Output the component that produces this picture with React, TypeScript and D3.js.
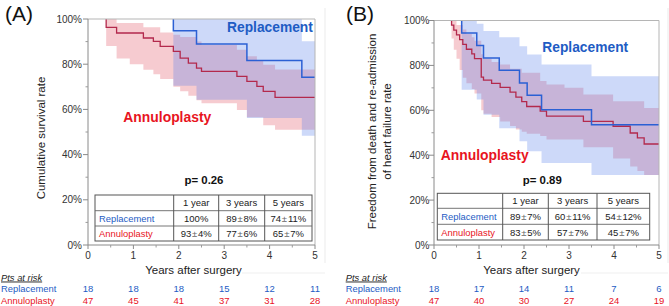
import React from 'react';
import * as d3 from 'd3';

type Pt = [number, number];

// ---------- shared ----------
const years = [0, 1, 2, 3, 4, 5];
const halfYears = [0.5, 1.5, 2.5, 3.5, 4.5];
const yTicks = [0, 20, 40, 60, 80, 100];
const yMinorTicks = [10, 30, 50, 70, 90];
const tableHeaders = ['1 year', '3 years', '5 years'];
const seriesNames = ['Replacement', 'Annuloplasty'];

// ---------- Panel A : survival ----------
const repSurvA: Pt[] = [[0, 100], [1.88, 94.8], [2.39, 88.9], [3.5, 81.6], [4.71, 74.2]];
const repUpperA: Pt[] = [[0, 100], [4.71, 90.1]];
const repLowerA: Pt[] = [[0, 100], [1.88, 70.5], [2.39, 64.3], [3.5, 56.2], [4.71, 48.3]];
const annSurvA: Pt[] = [[0, 100], [0.4, 96.3], [0.63, 93.8], [1.22, 91.6], [1.44, 90.1], [1.59, 87.9], [1.88, 85.7], [2.03, 82.7], [2.21, 80.5], [2.39, 78.3], [2.5, 76.8], [3.28, 74.6], [3.5, 72.4], [3.72, 70.2], [3.86, 68], [4.12, 65.3]];
const annUpperA: Pt[] = [[0, 100], [0.63, 98.2], [1.22, 96.3], [1.59, 94], [1.88, 93], [2.03, 92], [2.39, 90], [2.5, 88.5], [3.28, 86.4], [3.5, 83.5], [3.72, 81.5], [3.86, 79.8], [4.12, 77.6]];
const annLowerA: Pt[] = [[0, 100], [0.4, 88], [0.63, 82.5], [0.92, 80], [1.22, 77.5], [1.44, 75.5], [1.59, 73.5], [1.88, 70], [2.03, 68], [2.21, 66], [2.39, 64], [2.5, 62.7], [3.28, 59.7], [3.5, 56.5], [3.86, 53], [4.12, 51]];
const tableRepA = ['100%', '89±8%', '74±11%'];
const tableAnnA = ['93±4%', '77±6%', '65±7%'];
const riskRepA = [18, 18, 18, 15, 12, 11];
const riskAnnA = [47, 45, 41, 37, 31, 28];
const pValueA = 'p= 0.26';

// ---------- Panel B : freedom from death / HF readmission ----------
const repSurvB: Pt[] = [[0, 100], [0.615, 94.4], [0.95, 88.9], [1.1, 83.3], [1.45, 77.8], [1.9, 72.2], [2.07, 66.7], [2.39, 60.3], [3.5, 53.6]];
const repUpperB: Pt[] = [[0, 100], [0.95, 98.5], [1.1, 95.3], [1.45, 92.5], [1.9, 88.5], [2.07, 84.8], [2.39, 80.4], [3.5, 75.2]];
const repLowerB: Pt[] = [[0, 100], [0.615, 69.2], [0.95, 64.8], [1.1, 58], [1.45, 52], [1.9, 46.2], [2.07, 41.8], [2.39, 36.5], [3.5, 31.2]];
const annSurvB: Pt[] = [[0, 100], [0.39, 97.9], [0.44, 95.7], [0.5, 93.6], [0.57, 91.5], [0.64, 89.4], [0.72, 87.2], [0.84, 85.1], [0.9, 83.0], [1.05, 74.8], [1.1, 73.4], [1.28, 72], [1.47, 70.2], [1.69, 68.1], [1.82, 65.9], [1.95, 63.9], [2.06, 61.7], [2.36, 59.6], [2.5, 57.4], [3.32, 55.1], [3.98, 52.9], [4.36, 49.9], [4.52, 47.7], [4.67, 45]];
const annUpperB: Pt[] = [[0, 100], [0.5, 98], [0.64, 96], [0.72, 94], [0.84, 92.5], [0.9, 91], [1.05, 85], [1.1, 83], [1.28, 81.5], [1.47, 80.4], [1.69, 78.5], [1.95, 76.7], [2.36, 73], [2.5, 71.5], [2.9, 70], [3.32, 67], [3.98, 64], [4.67, 61]];
const annLowerB: Pt[] = [[0, 100], [0.39, 92], [0.44, 87], [0.5, 83], [0.57, 78], [0.64, 74.5], [0.72, 72], [0.84, 69.5], [0.9, 67.5], [1.05, 60], [1.1, 58.5], [1.28, 57], [1.47, 55], [1.69, 53], [1.82, 51.5], [1.95, 50.5], [2.06, 49.5], [2.36, 48.5], [2.5, 47], [3.32, 43.5], [3.98, 38.5], [4.36, 35], [4.52, 33], [4.67, 31.2]];
const tableRepB = ['89±7%', '60±11%', '54±12%'];
const tableAnnB = ['83±5%', '57±7%', '45±7%'];
const riskRepB = [18, 17, 14, 11, 7, 6];
const riskAnnB = [47, 40, 30, 27, 24, 19];
const pValueB = 'p= 0.89';

// ---------- styling ----------
const FONT = '"Liberation Sans", Arial, Helvetica, sans-serif';
const BLUE_TXT = '#1e5cc4';
const RED_TXT = '#e8141e';
const BLUE_LINE = '#2b60d4';
const RED_LINE = '#b3294c';
const BLUE_FILL = 'rgba(90,130,235,0.30)';
const RED_FILL = 'rgba(230,110,125,0.36)';

const stepVal = (arr: Pt[], t: number) => {
  let v = arr[0][1];
  for (const [tt, vv] of arr) if (tt <= t + 1e-9) v = vv;
  return v;
};

function bandPts(upper: Pt[], lower: Pt[]) {
  const times = Array.from(new Set([...upper.map(d => d[0]), ...lower.map(d => d[0]), 5])).sort((a, b) => a - b);
  return times.map(t => ({ t, hi: stepVal(upper, t), lo: stepVal(lower, t) }));
}

// line starts at the first event (the 100% plateau is hidden by the top frame in the original)
function linePts(s: Pt[]): Pt[] {
  const first = s.findIndex(d => d[1] < 100);
  const start: Pt = [s[first][0], 100];
  return [start, ...s.slice(first), [5, s[s.length - 1][1]]];
}

function ValText({ s, x, y }: { s: string; x: number; y: number }) {
  const parts = s.split('±');
  return (
    <text x={x} y={y} textAnchor="middle" fontSize={9.5} fill="#222">
      {parts[0]}
      {parts.length > 1 && <tspan dx={0.8} fill="#666">±</tspan>}
      {parts.length > 1 && <tspan dx={0.8}>{parts[1]}</tspan>}
    </text>
  );
}

interface PanelProps {
  x0: number; x5: number; yTop: number; yBot: number; tickOff: number;
  letter: string; letterX: number;
  yTitle: string[]; yTitleX: number[]; yTitleY: number;
  repLabel: [number, number]; annLabel: [number, number];
  p: string; pPos: [number, number];
  cols: number[]; rows: number[]; labelX: number;
  xTitleX: number; riskX: number;
  repSurv: Pt[]; repUp: Pt[]; repLo: Pt[];
  annSurv: Pt[]; annUp: Pt[]; annLo: Pt[];
  tRep: string[]; tAnn: string[]; rRep: number[]; rAnn: number[];
  edgeX: number; edgeLineX0: number;
}

function Panel(P: PanelProps) {
  const x = d3.scaleLinear().domain([0, 5]).range([P.x0, P.x5]);
  const y = d3.scaleLinear().domain([0, 100]).range([P.yBot, P.yTop]);
  const area = d3.area<{ t: number; hi: number; lo: number }>()
    .x(d => x(d.t)).y0(d => y(d.lo)).y1(d => y(d.hi)).curve(d3.curveStepAfter);
  const line = d3.line<Pt>().x(d => x(d[0])).y(d => y(d[1])).curve(d3.curveStepAfter);
  const { cols, rows } = P;
  const rowMid = (i: number) => (rows[i] + rows[i + 1]) / 2 + 3.4;
  const colMid = (i: number) => (cols[i] + cols[i + 1]) / 2;
  return (
    <g fontFamily={FONT}>
      {/* faint image edges */}
      <line x1={P.edgeX} x2={P.edgeX} y1={8} y2={263} stroke="#ebebeb" />
      <line x1={P.edgeLineX0} x2={P.edgeX} y1={273} y2={273} stroke="#efefef" />
      <text x={P.letterX} y={21} fontSize={21} fill="#111">{P.letter}</text>

      {/* bands */}
      <path d={area(bandPts(P.annUp, P.annLo)) || ''} fill={RED_FILL} />
      <path d={area(bandPts(P.repUp, P.repLo)) || ''} fill={BLUE_FILL} />

      {/* lines */}
      <path d={line(linePts(P.annSurv)) || ''} fill="none" stroke={RED_LINE} strokeWidth={1.3} />
      <path d={line(linePts(P.repSurv)) || ''} fill="none" stroke={BLUE_LINE} strokeWidth={1.5} />

      {/* frame */}
      <line x1={P.x0} x2={P.x5} y1={P.yTop} y2={P.yTop} stroke="#b5b5b5" />
      <line x1={P.x5} x2={P.x5} y1={P.yTop} y2={P.yBot} stroke="#b5b5b5" />
      <line x1={P.x0} x2={P.x0} y1={P.yTop} y2={P.yBot} stroke="#8a8a8a" />
      <line x1={P.x0} x2={P.x5} y1={P.yBot} y2={P.yBot} stroke="#8a8a8a" />

      {/* y axis */}
      {yTicks.map(v => (
        <g key={'yt' + v}>
          <line x1={P.x0 - 5} x2={P.x0} y1={y(v)} y2={y(v)} stroke="#8a8a8a" />
          <text x={P.x0 - P.tickOff} y={y(v)} dy="0.35em" textAnchor="end" fontSize={10} fill="#333">{v + '%'}</text>
        </g>
      ))}
      {yMinorTicks.map(v => (
        <line key={'ym' + v} x1={P.x0 - 2.5} x2={P.x0} y1={y(v)} y2={y(v)} stroke="#9a9a9a" />
      ))}
      {/* x axis */}
      {years.map(t => (
        <g key={'xt' + t}>
          <line x1={x(t)} x2={x(t)} y1={P.yBot} y2={P.yBot + 4} stroke="#8a8a8a" />
          <text x={x(t)} y={258.5} textAnchor="middle" fontSize={10} fill="#333">{t}</text>
        </g>
      ))}
      {halfYears.map(t => (
        <line key={'xm' + t} x1={x(t)} x2={x(t)} y1={P.yBot} y2={P.yBot + 2.5} stroke="#9a9a9a" />
      ))}
      <text x={P.xTitleX} y={273.5} textAnchor="middle" fontSize={11.5} fill="#222">Years after surgery</text>
      {P.yTitle.map((s, i) => (
        <text key={'ytl' + i} transform={`translate(${P.yTitleX[i]},${P.yTitleY}) rotate(-90)`} textAnchor="middle" fontSize={11.5} fill="#222">{s}</text>
      ))}

      {/* series labels */}
      <text x={P.repLabel[0]} y={P.repLabel[1]} fontSize={13.8} fontWeight="bold" fill={BLUE_TXT}>{seriesNames[0]}</text>
      <text x={P.annLabel[0]} y={P.annLabel[1]} fontSize={13.9} fontWeight="bold" fill={RED_TXT}>{seriesNames[1]}</text>
      <text x={P.pPos[0]} y={P.pPos[1]} textAnchor="middle" fontSize={11.4} fontWeight="bold" fill="#111">{P.p}</text>

      {/* table */}
      <rect x={cols[0]} y={rows[0]} width={cols[4] - cols[0]} height={rows[3] - rows[0]} fill="#fff" stroke="#555" strokeWidth={1} />
      {rows.slice(1, 3).map((r, i) => (
        <line key={'tr' + i} x1={cols[0]} x2={cols[4]} y1={r} y2={r} stroke="#666" strokeWidth={0.9} />
      ))}
      {cols.slice(1, 4).map((c, i) => (
        <line key={'tc' + i} x1={c} x2={c} y1={rows[0]} y2={rows[3]} stroke="#555" strokeWidth={1} />
      ))}
      {tableHeaders.map((h, i) => (
        <text key={'th' + i} x={colMid(i + 1)} y={rowMid(0)} textAnchor="middle" fontSize={9.5} fill="#222">{h}</text>
      ))}
      <text x={P.labelX} y={rowMid(1)} fontSize={9.4} fill={BLUE_TXT}>{seriesNames[0]}</text>
      <text x={P.labelX} y={rowMid(2)} fontSize={9.4} fill={RED_TXT}>{seriesNames[1]}</text>
      {P.tRep.map((s, i) => <ValText key={'vr' + i} s={s} x={colMid(i + 1)} y={rowMid(1)} />)}
      {P.tAnn.map((s, i) => <ValText key={'va' + i} s={s} x={colMid(i + 1)} y={rowMid(2)} />)}

      {/* at risk */}
      <text x={P.riskX} y={280.5} fontSize={9.4} fontStyle="italic" fill="#222" textDecoration="underline">Pts at risk</text>
      <text x={P.riskX} y={291.8} fontSize={9.4} fill={BLUE_TXT}>{seriesNames[0]}</text>
      <text x={P.riskX} y={303.5} fontSize={9.4} fill={RED_TXT}>{seriesNames[1]}</text>
      {P.rRep.map((n, i) => (
        <text key={'rr' + i} x={x(years[i])} y={291.8} textAnchor="middle" fontSize={9.5} fill={BLUE_TXT}>{n}</text>
      ))}
      {P.rAnn.map((n, i) => (
        <text key={'ra' + i} x={x(years[i])} y={303.5} textAnchor="middle" fontSize={9.5} fill={RED_TXT}>{n}</text>
      ))}
    </g>
  );
}

export default function App() {
  return (
    <svg width={669} height={306} style={{ position: 'absolute', left: 0, top: 0, background: '#fff' }}>
      <rect width={669} height={306} fill="#fff" />
      <Panel
        x0={88} x5={315} yTop={19} yBot={245} tickOff={6}
        letter="(A)" letterX={5}
        yTitle={['Cumulative survival rate']} yTitleX={[44.5]} yTitleY={138}
        repLabel={[227, 31.5]} annLabel={[123.3, 121.5]}
        p={pValueA} pPos={[204, 183.5]}
        cols={[95, 173.7, 218.7, 264.7, 312]} rows={[195, 210.7, 226, 241]} labelX={99}
        xTitleX={193.5} riskX={1}
        repSurv={repSurvA} repUp={repUpperA} repLo={repLowerA}
        annSurv={annSurvA} annUp={annUpperA} annLo={annLowerA}
        tRep={tableRepA} tAnn={tableAnnA} rRep={riskRepA} rAnn={riskAnnA}
        edgeX={325} edgeLineX0={242}
      />
      <Panel
        x0={434} x5={659} yTop={20.5} yBot={245} tickOff={4.5}
        letter="(B)" letterX={346}
        yTitle={['Freedom from death and re-admission', 'of heart failure rate']} yTitleX={[376, 391]} yTitleY={131.5}
        repLabel={[542.3, 51.5]} annLabel={[440.7, 160]}
        p={pValueB} pPos={[542.3, 183.5]}
        cols={[437.3, 502.7, 548.3, 597, 649.7]} rows={[193.3, 208.3, 224.3, 240]} labelX={441.3}
        xTitleX={531.5} riskX={345.7}
        repSurv={repSurvB} repUp={repUpperB} repLo={repLowerB}
        annSurv={annSurvB} annUp={annUpperB} annLo={annLowerB}
        tRep={tableRepB} tAnn={tableAnnB} rRep={riskRepB} rAnn={riskAnnB}
        edgeX={668} edgeLineX0={581}
      />
    </svg>
  );
}
